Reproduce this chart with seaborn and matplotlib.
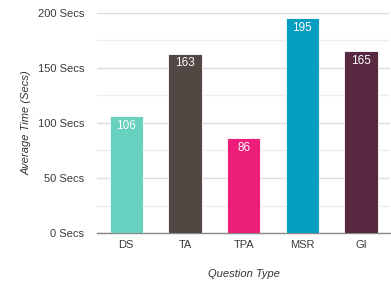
import matplotlib
matplotlib.use("Agg")
import matplotlib.pyplot as plt
import pandas as pd
import seaborn as sns
from matplotlib.ticker import MultipleLocator, FuncFormatter

QUESTION_TYPES = ["DS", "TA", "TPA", "MSR", "GI"]
AVG_TIME = [106, 163, 86, 195, 165]
BAR_COLORS = ["#66D1BF", "#524742", "#EC1E79", "#059EC0", "#582841"]

sns.set_theme(style="white")
plt.rcParams["font.family"] = ["Liberation Sans", "DejaVu Sans"]

df = pd.DataFrame({"type": QUESTION_TYPES, "time": AVG_TIME})

fig = plt.figure(figsize=(3.91, 2.87), dpi=100)
ax = fig.add_axes([0.248, 0.188, 0.75, 0.767])

sns.barplot(
    data=df, x="type", y="time", hue="type", palette=BAR_COLORS,
    legend=False, width=0.57, ax=ax, saturation=1,
    edgecolor="white", linewidth=0.6, zorder=3,
)

ax.set_ylim(0, 200)
ax.yaxis.set_major_locator(MultipleLocator(50))
ax.yaxis.set_minor_locator(MultipleLocator(25))
ax.yaxis.set_major_formatter(FuncFormatter(lambda v, _: f"{int(v)} Secs"))
ax.grid(axis="y", which="major", color="#dddddd", linewidth=1, zorder=0)
ax.grid(axis="y", which="minor", color="#eeeeee", linewidth=1, zorder=0)
ax.set_axisbelow(True)

for side in ["top", "right", "left"]:
    ax.spines[side].set_visible(False)
ax.spines["bottom"].set_color("#888888")
ax.spines["bottom"].set_linewidth(1)

ax.tick_params(axis="both", which="both", length=0, labelsize=8, colors="#3a3a3a")
ax.tick_params(axis="y", pad=9)
ax.tick_params(axis="x", pad=5)

for i, v in enumerate(AVG_TIME):
    ax.text(i, v - 3, str(v), ha="center", va="top", color="white", fontsize=8.5)

ax.set_xlabel("Question Type", fontsize=8, fontstyle="italic", color="#333333", labelpad=14)
ax.set_ylabel("Average Time (Secs)", fontsize=8, fontstyle="italic", color="#333333", labelpad=5)

fig.savefig("out.png", dpi=100)
